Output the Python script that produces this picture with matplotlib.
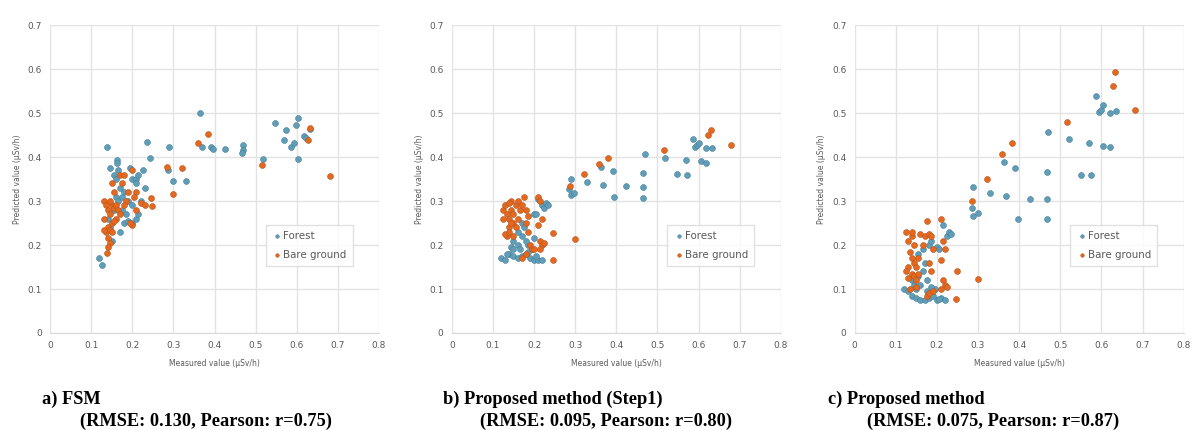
import numpy as np
import matplotlib.pyplot as plt

# ---- data (measured, predicted) ----
# a) FSM
a_forest_x = [0.138, 0.12, 0.126, 0.162, 0.162, 0.146, 0.235, 0.243, 0.288, 0.286, 0.30, 0.33,
              0.365, 0.369, 0.391, 0.395, 0.425, 0.468, 0.468, 0.467, 0.519, 0.548, 0.573, 0.570,
              0.585, 0.592, 0.598, 0.604, 0.602, 0.618, 0.622, 0.632,
              0.165, 0.155, 0.17, 0.18, 0.16, 0.19, 0.2, 0.21, 0.215, 0.225, 0.195, 0.21, 0.23,
              0.22, 0.175, 0.185, 0.18, 0.17, 0.15, 0.145, 0.14, 0.155, 0.2, 0.21, 0.2, 0.19,
              0.165, 0.175, 0.16, 0.215]
a_forest_y = [0.424, 0.17, 0.155, 0.394, 0.386, 0.375, 0.435, 0.397, 0.422, 0.371, 0.346, 0.346,
              0.501, 0.422, 0.424, 0.418, 0.418, 0.428, 0.415, 0.409, 0.395, 0.478, 0.462, 0.439,
              0.422, 0.433, 0.473, 0.488, 0.395, 0.447, 0.444, 0.463,
              0.37, 0.36, 0.33, 0.32, 0.31, 0.30, 0.35, 0.35, 0.36, 0.37, 0.375, 0.34, 0.33,
              0.30, 0.28, 0.27, 0.25, 0.23, 0.21, 0.24, 0.26, 0.28, 0.29, 0.26, 0.25, 0.255,
              0.30, 0.31, 0.35, 0.27]
a_bare_x = [0.359, 0.383, 0.285, 0.32, 0.30, 0.515, 0.681, 0.626, 0.631, 0.245, 0.247, 0.138,
            0.13, 0.135, 0.14, 0.145, 0.15, 0.155, 0.16, 0.165, 0.14, 0.135, 0.13, 0.145, 0.15,
            0.14, 0.145, 0.14, 0.13, 0.17, 0.18, 0.175, 0.19, 0.2, 0.21, 0.205, 0.22, 0.23, 0.2,
            0.195, 0.185, 0.155, 0.15, 0.21, 0.18, 0.16, 0.17, 0.145, 0.15, 0.155]
a_bare_y = [0.432, 0.452, 0.378, 0.376, 0.316, 0.381, 0.358, 0.438, 0.467, 0.308, 0.288, 0.182,
            0.30, 0.29, 0.28, 0.27, 0.29, 0.285, 0.29, 0.28, 0.24, 0.23, 0.235, 0.235, 0.23,
            0.215, 0.205, 0.195, 0.26, 0.36, 0.36, 0.34, 0.32, 0.37, 0.32, 0.31, 0.295, 0.29, 0.245,
            0.25, 0.30, 0.32, 0.34, 0.28, 0.29, 0.26, 0.27, 0.30, 0.25, 0.255]

# b) Proposed method (Step1)
b_forest_x = [0.29, 0.286, 0.29, 0.298, 0.329, 0.363, 0.368, 0.391, 0.395, 0.424, 0.466, 0.466,
              0.466, 0.47, 0.518, 0.547, 0.573, 0.569, 0.587, 0.591, 0.596, 0.602, 0.606, 0.618,
              0.619, 0.634,
              0.12, 0.13, 0.14, 0.15, 0.16, 0.17, 0.18, 0.19, 0.2, 0.21, 0.22, 0.205, 0.195, 0.185,
              0.18, 0.17, 0.16, 0.15, 0.145, 0.15, 0.16, 0.17, 0.175, 0.2, 0.205, 0.22, 0.225, 0.23,
              0.235, 0.21, 0.2, 0.185, 0.135, 0.165]
b_forest_y = [0.35, 0.328, 0.313, 0.318, 0.343, 0.378, 0.337, 0.368, 0.309, 0.334, 0.364, 0.331,
              0.307, 0.406, 0.399, 0.361, 0.359, 0.393, 0.44, 0.423, 0.427, 0.432, 0.39, 0.387,
              0.421, 0.421,
              0.17, 0.165, 0.18, 0.175, 0.17, 0.175, 0.18, 0.17, 0.165, 0.165, 0.165, 0.175, 0.19, 0.2,
              0.21, 0.22, 0.23, 0.21, 0.195, 0.19, 0.2, 0.25, 0.24, 0.27, 0.27, 0.29, 0.285, 0.295,
              0.29, 0.305, 0.215, 0.185, 0.18, 0.19]
b_bare_x = [0.288, 0.321, 0.359, 0.381, 0.30, 0.247, 0.245, 0.515, 0.624, 0.631, 0.679,
            0.125, 0.125, 0.13, 0.135, 0.14, 0.14, 0.135, 0.13, 0.14, 0.145, 0.15, 0.15, 0.155, 0.16,
            0.165, 0.145, 0.14, 0.17, 0.175, 0.18, 0.185, 0.18, 0.185, 0.19, 0.195, 0.2, 0.21, 0.215,
            0.21, 0.22, 0.215, 0.22, 0.225, 0.215, 0.17, 0.18, 0.155, 0.16, 0.145, 0.15]
b_bare_y = [0.334, 0.361, 0.385, 0.398, 0.213, 0.227, 0.167, 0.417, 0.45, 0.461, 0.428,
            0.28, 0.26, 0.29, 0.27, 0.26, 0.24, 0.22, 0.225, 0.23, 0.28, 0.27, 0.25, 0.29, 0.30,
            0.28, 0.30, 0.295, 0.29, 0.31, 0.28, 0.265, 0.25, 0.23, 0.20, 0.19, 0.19, 0.31, 0.30,
            0.245, 0.26, 0.21, 0.20, 0.205, 0.19, 0.17, 0.18, 0.24, 0.26, 0.25, 0.22]

# c) Proposed method
c_forest_x = [0.587, 0.593, 0.600, 0.604, 0.621, 0.636, 0.604, 0.620, 0.571, 0.551, 0.575, 0.52,
              0.47, 0.467, 0.467, 0.467, 0.426, 0.396, 0.391, 0.368, 0.364, 0.33, 0.288, 0.286,
              0.287, 0.30,
              0.12, 0.13, 0.14, 0.15, 0.16, 0.17, 0.18, 0.19, 0.2, 0.21, 0.22, 0.205, 0.195, 0.185,
              0.175, 0.165, 0.155, 0.15, 0.16, 0.175, 0.18, 0.185, 0.2, 0.205, 0.215, 0.225, 0.23,
              0.235, 0.165, 0.17, 0.14, 0.145, 0.155]
c_forest_y = [0.538, 0.502, 0.508, 0.519, 0.5, 0.504, 0.426, 0.424, 0.431, 0.36, 0.36, 0.441,
              0.458, 0.366, 0.304, 0.259, 0.305, 0.26, 0.375, 0.311, 0.389, 0.319, 0.332, 0.285,
              0.266, 0.273,
              0.1, 0.095, 0.085, 0.08, 0.075, 0.075, 0.08, 0.085, 0.075, 0.08, 0.075, 0.078, 0.1, 0.105,
              0.12, 0.14, 0.13, 0.1, 0.11, 0.095, 0.2, 0.21, 0.195, 0.19, 0.245, 0.22, 0.23,
              0.225, 0.19, 0.16, 0.12, 0.11, 0.18]
c_bare_x = [0.633, 0.627, 0.682, 0.516, 0.382, 0.358, 0.322, 0.286, 0.301, 0.247, 0.248,
            0.125, 0.13, 0.135, 0.13, 0.125, 0.13, 0.14, 0.145, 0.14, 0.145, 0.15, 0.155, 0.14, 0.145,
            0.15, 0.15, 0.16, 0.165, 0.17, 0.175, 0.18, 0.185, 0.19, 0.185, 0.18, 0.175, 0.18, 0.19,
            0.21, 0.215, 0.22, 0.21, 0.215, 0.22, 0.225, 0.21, 0.135, 0.14, 0.155]
c_bare_y = [0.593, 0.562, 0.506, 0.479, 0.432, 0.408, 0.349, 0.301, 0.123, 0.077, 0.141,
            0.23, 0.21, 0.185, 0.15, 0.14, 0.125, 0.22, 0.2, 0.17, 0.16, 0.15, 0.17, 0.135, 0.13,
            0.12, 0.105, 0.225, 0.2, 0.22, 0.255, 0.225, 0.22, 0.19, 0.14, 0.16, 0.085, 0.09, 0.095,
            0.26, 0.21, 0.19, 0.165, 0.12, 0.11, 0.105, 0.1, 0.1, 0.23, 0.135]

captions = [("a) FSM", "(RMSE: 0.130, Pearson: r=0.75)"),
            ("b) Proposed method (Step1)", "(RMSE: 0.095, Pearson: r=0.80)"),
            ("c) Proposed method", "(RMSE: 0.075, Pearson: r=0.87)")]

panels = [(a_forest_x, a_forest_y, a_bare_x, a_bare_y),
          (b_forest_x, b_forest_y, b_bare_x, b_bare_y),
          (c_forest_x, c_forest_y, c_bare_x, c_bare_y)]

forest_col = '#619DB6'
bare_col = '#E2691F'
gray = '#595959'

fig = plt.figure(figsize=(11.92, 4.30), dpi=100)

lefts = [0.042, 0.379, 0.717]
cap_x1 = [0.035, 0.372, 0.695]
cap_x2 = [0.067, 0.403, 0.727]

for i, (fx, fy, bx, by) in enumerate(panels):
    ax = fig.add_axes([lefts[i], 0.2256, 0.276, 0.716])
    ax.scatter(fx, fy, s=18, color=forest_col, edgecolor='#447F98', linewidth=0.4,
               label='Forest', zorder=3)
    ax.scatter(bx, by, s=18, color=bare_col, edgecolor='#B9521A', linewidth=0.4,
               label='Bare ground', zorder=3)
    ax.set_xlim(0, 0.8)
    ax.set_ylim(0, 0.7)
    ax.set_xticks(np.arange(0, 0.81, 0.1))
    ax.set_yticks(np.arange(0, 0.71, 0.1))
    ax.set_xticklabels(['0', '0.1', '0.2', '0.3', '0.4', '0.5', '0.6', '0.7', '0.8'])
    ax.set_yticklabels(['0', '0.1', '0.2', '0.3', '0.4', '0.5', '0.6', '0.7'])
    ax.grid(color='#E3E3E3', linewidth=1.0)
    ax.set_axisbelow(True)
    for side in ['top', 'right', 'left']:
        ax.spines[side].set_visible(False)
    ax.spines['bottom'].set_color('#D9D9D9')
    ax.tick_params(length=0, labelsize=6.5, labelcolor=gray, pad=6)
    ax.set_xlabel('Measured value (µSv/h)', fontsize=5.5, color=gray, labelpad=6)
    ax.set_ylabel('Predicted value (µSv/h)', fontsize=5.5, color=gray, labelpad=4)
    leg = ax.legend(loc='lower right', bbox_to_anchor=(0.935, 0.2), fontsize=7.4,
                    frameon=True, fancybox=False, edgecolor='#D9D9D9', markerscale=0.6,
                    handletextpad=0.1, borderpad=0.6, labelspacing=0.9, handlelength=1.0)
    for t in leg.get_texts():
        t.set_color(gray)

    fig.text(cap_x1[i], 0.072, captions[i][0], fontsize=13.2, fontweight='bold',
             family='Liberation Serif', va='center')
    fig.text(cap_x2[i], 0.021, captions[i][1], fontsize=13.2, fontweight='bold',
             family='Liberation Serif', va='center')

fig.savefig('out.png', dpi=100)
